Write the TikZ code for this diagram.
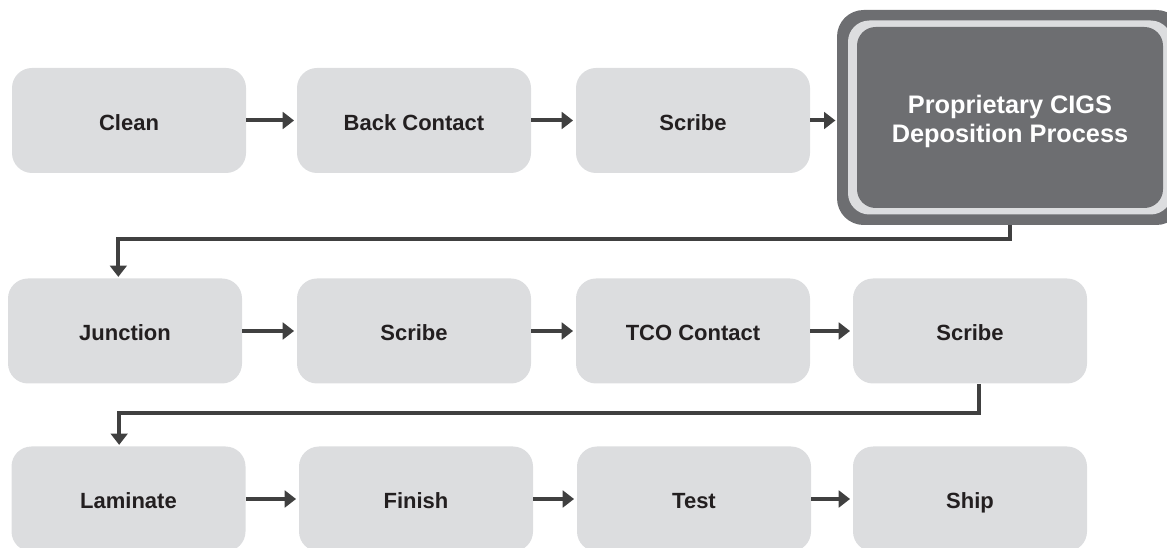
\documentclass[tikz,border=0pt]{standalone}
\usepackage{fontspec}
\setmainfont{Liberation Sans}
\usetikzlibrary{arrows.meta}

\definecolor{boxgray}{RGB}{220,221,223}
\definecolor{darkgray}{RGB}{109,110,113}
\definecolor{linegray}{RGB}{64,64,64}
\definecolor{textblack}{RGB}{35,31,32}

\tikzset{
  stepbox/.style={draw=none,fill=boxgray,rounded corners=15pt,minimum width=175.5pt,minimum height=78.75pt,inner sep=0pt,text height=14.5pt,text depth=0pt,font=\fontsize{16.5}{19}\selectfont\bfseries,text=textblack},
  flow/.style={draw=linegray,line width=3pt,-{Triangle[length=8.5pt,width=12.5pt]}},
}

\begin{document}
\begin{tikzpicture}[x=0.75pt,y=0.75pt,yscale=-1,xscale=1]
\useasboundingbox (0,0) rectangle (1167,548);

% first row
\node [stepbox] (clean) at (129,120.5) {Clean};
\node [stepbox] (back) at (414,120.5) {Back Contact};
\node [stepbox] (scribeA) at (693,120.5) {Scribe};
% CIGS deposition, framed box
\node [draw=none,fill=darkgray,rounded corners=20pt,minimum width=259.5pt,minimum height=161.25pt] (cigsouter) at (1010,117.5) {};
\node [draw=none,fill=boxgray,rounded corners=16pt,minimum width=243pt,minimum height=145.5pt] (cigsring) at (1010,117.5) {};
\node [draw=none,fill=darkgray,rounded corners=14pt,minimum width=229.5pt,minimum height=135.75pt] (cigs) at (1010,117.5) {};
\node [align=center,text=white,font=\fontsize{19}{21.5}\selectfont\bfseries] (cigslabel) at (1010,121.5) {Proprietary CIGS\\Deposition Process};

% second row
\node [stepbox] (junction) at (125,331) {Junction};
\node [stepbox] (scribeB) at (414,331) {Scribe};
\node [stepbox] (tco) at (693,331) {TCO Contact};
\node [stepbox] (scribeC) at (970,331) {Scribe};

% third row
\node [stepbox] (laminate) at (128.5,499) {Laminate};
\node [stepbox] (finish) at (416,499) {Finish};
\node [stepbox] (test) at (694,499) {Test};
\node [stepbox] (ship) at (970,499) {Ship};

% arrows
\draw [flow] (clean) -- ([xshift=-2]back.west);
\draw [flow] (back) -- ([xshift=-2]scribeA.west);
\draw [flow] (scribeA) -- ([xshift=-1]cigsouter.west |- scribeA);
\draw [flow] (cigsouter.south) -- ++(0,14) -| ([xshift=-5,yshift=-1]junction.north);

\draw [flow] (junction) -- ([xshift=-2]scribeB.west);
\draw [flow] (scribeB) -- ([xshift=-2]tco.west);
\draw [flow] (tco) -- ([xshift=-2]scribeC.west);
\draw [flow] ([xshift=7]scribeC.south) -- ++(0,29) -| ([xshift=-7,yshift=-1]laminate.north);

\draw [flow] (laminate) -- ([xshift=-2]finish.west);
\draw [flow] (finish) -- ([xshift=-2]test.west);
\draw [flow] (test) -- ([xshift=-2]ship.west);

\end{tikzpicture}
\end{document}
